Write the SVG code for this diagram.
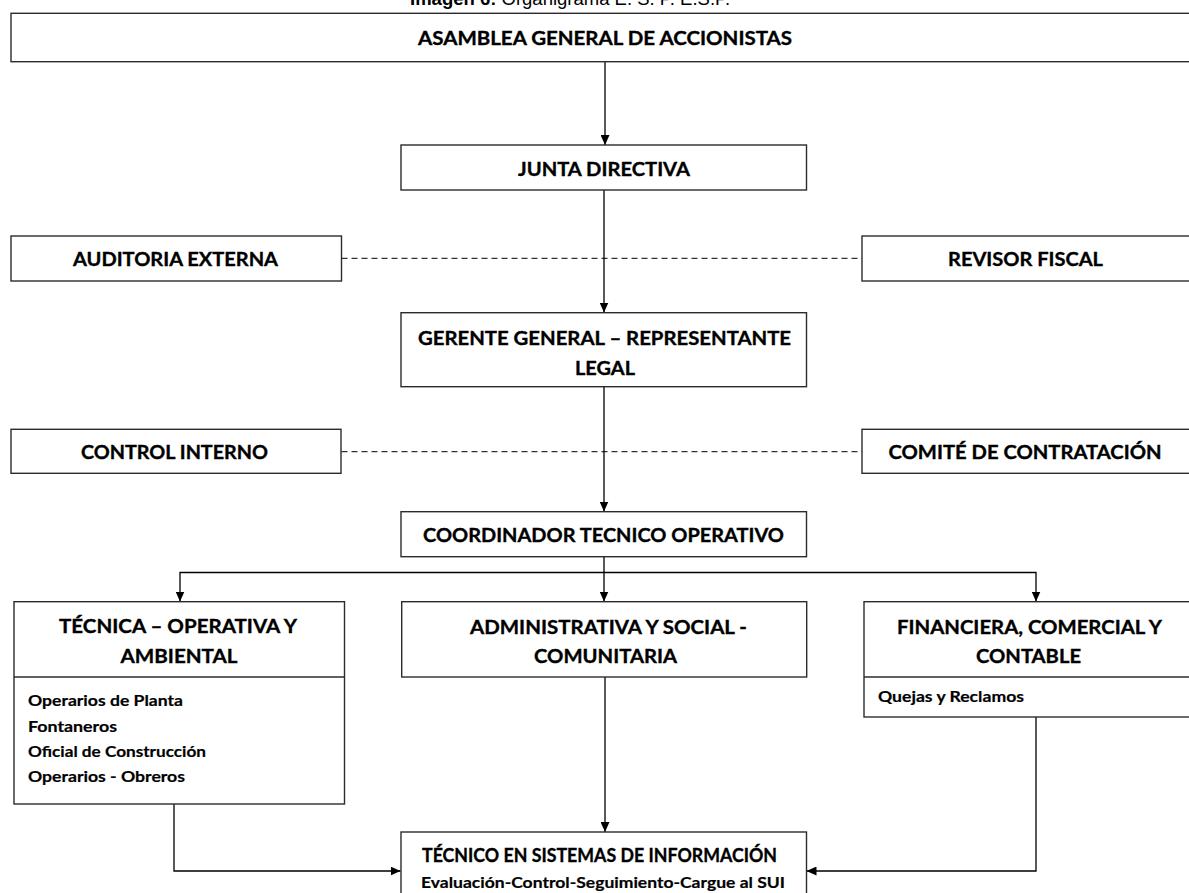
<svg xmlns="http://www.w3.org/2000/svg" width="1189" height="893" viewBox="0 0 1189 893">
<style>
  .box { fill: #ffffff; stroke: #2b2b2b; stroke-width: 1.4; }
  .div { stroke: #2b2b2b; stroke-width: 1.4; }
  .h { font-family: Lato, "Liberation Sans", sans-serif; font-weight: bold; font-size: 19.5px; fill: #000; stroke: #000; stroke-width: 0.35; text-anchor: middle; }
  .s { font-family: Lato, "Liberation Sans", sans-serif; font-weight: bold; font-size: 16px; fill: #000; stroke: #000; stroke-width: 0.2; }
  .conn { fill: none; stroke: #000; stroke-width: 1.3; }
  .dash { fill: none; stroke: #000; stroke-width: 1; stroke-dasharray: 6 4; }
  .cap { font-family: "Liberation Sans", Arial, sans-serif; font-size: 18.5px; fill: #000; }
</style>
<defs>
  <marker id="arr" viewBox="0 0 10 9" refX="10" refY="4.5" markerWidth="10" markerHeight="9" markerUnits="userSpaceOnUse" orient="auto">
    <path d="M0,0 L10,4.5 L0,9 z" fill="#000"/>
  </marker>
</defs>
<rect x="0" y="0" width="1189" height="893" fill="#ffffff"/>

<text class="cap" x="410" y="5"><tspan font-weight="bold">Imagen 6:</tspan> Organigrama E. S. P. E.S.P.</text>

<g id="connectors">
  <line class="conn" x1="605" y1="62" x2="605" y2="145" marker-end="url(#arr)"/>
  <line class="conn" x1="604" y1="190" x2="604" y2="312.5" marker-end="url(#arr)"/>
  <line class="dash" x1="341.5" y1="258.3" x2="862" y2="258.3"/>
  <line class="conn" x1="604" y1="387" x2="604" y2="511.5" marker-end="url(#arr)"/>
  <line class="dash" x1="341.5" y1="451.7" x2="862" y2="451.7"/>
  <line class="conn" x1="604" y1="556.7" x2="604" y2="572.5"/>
  <line class="conn" x1="179.5" y1="572.5" x2="1036.5" y2="572.5"/>
  <line class="conn" x1="180" y1="572.5" x2="180" y2="601.5" marker-end="url(#arr)"/>
  <line class="conn" x1="604" y1="572.5" x2="604" y2="601.5" marker-end="url(#arr)"/>
  <line class="conn" x1="1036" y1="572.5" x2="1036" y2="601.5" marker-end="url(#arr)"/>
  <polyline class="conn" points="174,804 174,871 400.5,871" marker-end="url(#arr)"/>
  <line class="conn" x1="605" y1="677" x2="605" y2="832" marker-end="url(#arr)"/>
  <polyline class="conn" points="1036,717 1036,871 806.5,871" marker-end="url(#arr)"/>
</g>

<g id="asamblea">
  <rect class="box" x="11" y="13.3" width="1190" height="48.4"/>
  <text class="h" x="605" y="44.5" textLength="374" lengthAdjust="spacingAndGlyphs">ASAMBLEA GENERAL DE ACCIONISTAS</text>
</g>

<g id="junta">
  <rect class="box" x="401" y="145" width="405.5" height="45"/>
  <text class="h" x="604" y="175.7" textLength="172" lengthAdjust="spacingAndGlyphs">JUNTA DIRECTIVA</text>
</g>

<g id="auditoria">
  <rect class="box" x="11" y="236" width="330.5" height="45"/>
  <text class="h" x="175.5" y="266" textLength="205" lengthAdjust="spacingAndGlyphs">AUDITORIA EXTERNA</text>
</g>

<g id="revisor">
  <rect class="box" x="862" y="236" width="340" height="45"/>
  <text class="h" x="1025.5" y="266" textLength="155" lengthAdjust="spacingAndGlyphs">REVISOR FISCAL</text>
</g>

<g id="gerente">
  <rect class="box" x="401" y="312.7" width="405.5" height="74"/>
  <text class="h" x="604.5" y="345" textLength="373" lengthAdjust="spacingAndGlyphs">GERENTE GENERAL – REPRESENTANTE</text>
  <text class="h" x="605" y="375" textLength="60" lengthAdjust="spacingAndGlyphs">LEGAL</text>
</g>

<g id="control">
  <rect class="box" x="11" y="429.3" width="330" height="44"/>
  <text class="h" x="174.5" y="459.3" textLength="187" lengthAdjust="spacingAndGlyphs">CONTROL INTERNO</text>
</g>

<g id="comite">
  <rect class="box" x="862" y="429.3" width="340" height="44"/>
  <text class="h" x="1025" y="459.3" textLength="273" lengthAdjust="spacingAndGlyphs">COMITÉ DE CONTRATACIÓN</text>
</g>

<g id="coordinador">
  <rect class="box" x="401" y="511.7" width="405.5" height="45"/>
  <text class="h" x="603.5" y="541.7" textLength="361" lengthAdjust="spacingAndGlyphs">COORDINADOR TECNICO OPERATIVO</text>
</g>

<g id="tecnica">
  <rect class="box" x="14" y="601.7" width="330.5" height="202.3"/>
  <line class="div" x1="14" y1="677" x2="344.5" y2="677"/>
  <text class="h" x="178" y="633.3" textLength="238" lengthAdjust="spacingAndGlyphs">TÉCNICA – OPERATIVA Y</text>
  <text class="h" x="179" y="663.3" textLength="117" lengthAdjust="spacingAndGlyphs">AMBIENTAL</text>
  <text class="s" x="28" y="706" textLength="155" lengthAdjust="spacingAndGlyphs">Operarios de Planta</text>
  <text class="s" x="28" y="731.7" textLength="89" lengthAdjust="spacingAndGlyphs">Fontaneros</text>
  <text class="s" x="28" y="756.7" textLength="178" lengthAdjust="spacingAndGlyphs">Oficial de Construcción</text>
  <text class="s" x="28" y="781.7" textLength="157" lengthAdjust="spacingAndGlyphs">Operarios - Obreros</text>
</g>

<g id="administrativa">
  <rect class="box" x="401.7" y="601.7" width="405" height="75.3"/>
  <text class="h" x="608.5" y="634" textLength="277" lengthAdjust="spacingAndGlyphs">ADMINISTRATIVA Y SOCIAL -</text>
  <text class="h" x="605.5" y="663.3" textLength="143" lengthAdjust="spacingAndGlyphs">COMUNITARIA</text>
</g>

<g id="financiera">
  <rect class="box" x="864" y="601.7" width="340" height="115.3"/>
  <line class="div" x1="864" y1="677" x2="1204" y2="677"/>
  <text class="h" x="1029.5" y="634" textLength="265" lengthAdjust="spacingAndGlyphs">FINANCIERA, COMERCIAL Y</text>
  <text class="h" x="1028.5" y="663.3" textLength="105" lengthAdjust="spacingAndGlyphs">CONTABLE</text>
  <text class="s" x="878" y="702" textLength="146" lengthAdjust="spacingAndGlyphs">Quejas y Reclamos</text>
</g>

<g id="tecnico">
  <rect class="box" x="401" y="832" width="405.5" height="80"/>
  <text class="h" x="599.5" y="862" textLength="355" lengthAdjust="spacingAndGlyphs">TÉCNICO EN SISTEMAS DE INFORMACIÓN</text>
  <text class="s" x="603" y="888" text-anchor="middle" font-size="16.5" textLength="364" lengthAdjust="spacingAndGlyphs">Evaluación-Control-Seguimiento-Cargue  al SUI</text>
</g>
</svg>
